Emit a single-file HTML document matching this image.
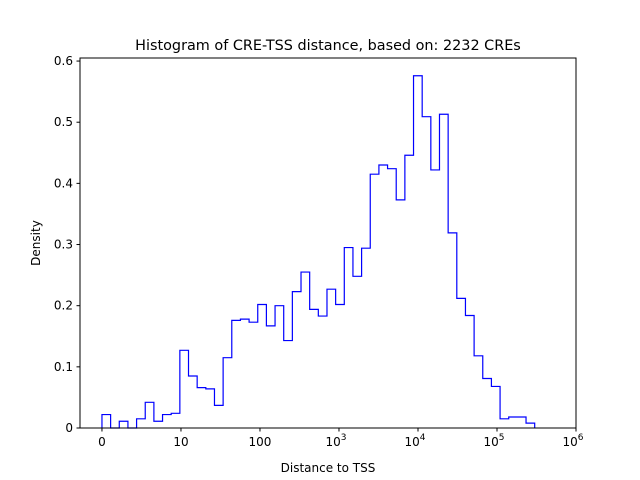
<!DOCTYPE html>
<html><head><meta charset="utf-8"><style>
html,body{margin:0;padding:0;background:#fff;}
svg{display:block;font-family:"DejaVu Sans","Liberation Sans",sans-serif;}
</style></head><body>
<svg id="chart" width="640" height="480" viewBox="0 0 640 480" xmlns="http://www.w3.org/2000/svg">
<rect x="0" y="0" width="640" height="480" fill="#fff"/>
<text x="328" y="50" font-size="14.4" text-anchor="middle" fill="#000">Histogram of CRE-TSS distance, based on: 2232 CREs</text>
<g id="plot"></g>
<text x="328" y="472" font-size="12" text-anchor="middle" fill="#000">Distance to TSS</text>
<text transform="translate(40,243) rotate(-90)" font-size="12" text-anchor="middle" fill="#000">Density</text>
</svg>
<script>
const densities = [0.022,0,0.011,0,0.015,0.042,0.011,0.022,0.024,0.127,
0.085,0.066,0.064,0.037,0.115,0.176,0.178,0.173,0.202,0.167,
0.200,0.143,0.223,0.255,0.194,0.183,0.227,0.202,0.295,0.248,
0.294,0.415,0.430,0.424,0.373,0.446,0.576,0.509,0.422,0.513,
0.319,0.212,0.184,0.118,0.081,0.068,0.015,0.018,0.018,0.008];
const binMin = 0;
const binMax = 300000;
const yTicks = [0,0.1,0.2,0.3,0.4,0.5,0.6];
const yTickLabels = ["0","0.1","0.2","0.3","0.4","0.5","0.6"];
const xTicks = [0,10,100,1000,10000,100000,1000000];
const xTickBase = ["0","10","100","10","10","10","10"];
const xTickExp = ["","","","3","4","5","6"];

const NS = "http://www.w3.org/2000/svg";
const L=80,R=576,T=58,B=428;
function tr(x){return x<=10? x/10 : 1+Math.log10(x/10);}
function itr(t){return t<=1? t*10 : 10*Math.pow(10,t-1);}
const t0=tr(binMin), t1=tr(binMax);
const tLo=-0.278, tHi=6;
function X(x){return L+(tr(x)-tLo)/(tHi-tLo)*(R-L);}
const yMax=0.605;
function Y(v){return B-v/yMax*(B-T);}
const g=document.getElementById('plot');
function mk(tag,attrs){const e=document.createElementNS(NS,tag);for(const k in attrs)e.setAttribute(k,attrs[k]);g.appendChild(e);return e;}

const n=densities.length;
let d="M"+X(binMin)+","+Y(0);
for(let i=0;i<n;i++){
  const xa=X(itr(t0+(t1-t0)*i/n)), xb=X(itr(t0+(t1-t0)*(i+1)/n));
  d+=" L"+xa+","+Y(densities[i])+" L"+xb+","+Y(densities[i]);
}
d+=" L"+X(binMax)+","+Y(0);
const p=mk('path',{d:d,fill:'none',stroke:'#0000ff','stroke-width':1.2});



const fr=mk('rect',{x:L,y:T,width:R-L,height:B-T,fill:'none',stroke:'#000','stroke-width':1});



yTicks.forEach((v,i)=>{
  const y=Y(v);
  const tk=mk('line',{x1:L-3.5,x2:L,y1:y,y2:y,stroke:'#000','stroke-width':1});
  
  
  const tx=mk('text',{x:L-7,y:y+4,'font-size':12,'text-anchor':'end',fill:'#000'});
  tx.textContent=yTickLabels[i];
  
  
});
xTicks.forEach((v,i)=>{
  const x=X(v);
  const tk=mk('line',{x1:x,x2:x,y1:B,y2:B+3.5,stroke:'#000','stroke-width':1});
  
  
  const tx=mk('text',{x:x,y:B+18,'font-size':12,'text-anchor':'middle',fill:'#000'});
  
  
  if(xTickExp[i]){
    tx.setAttribute('x',x-3);
    tx.appendChild(document.createTextNode(xTickBase[i]));
    const sp=document.createElementNS(NS,'tspan');
    sp.setAttribute('dy','-6');sp.setAttribute('font-size','9');
    sp.textContent=xTickExp[i];
    tx.appendChild(sp);
  } else tx.textContent=xTickBase[i];
});
</script>
</body></html>
